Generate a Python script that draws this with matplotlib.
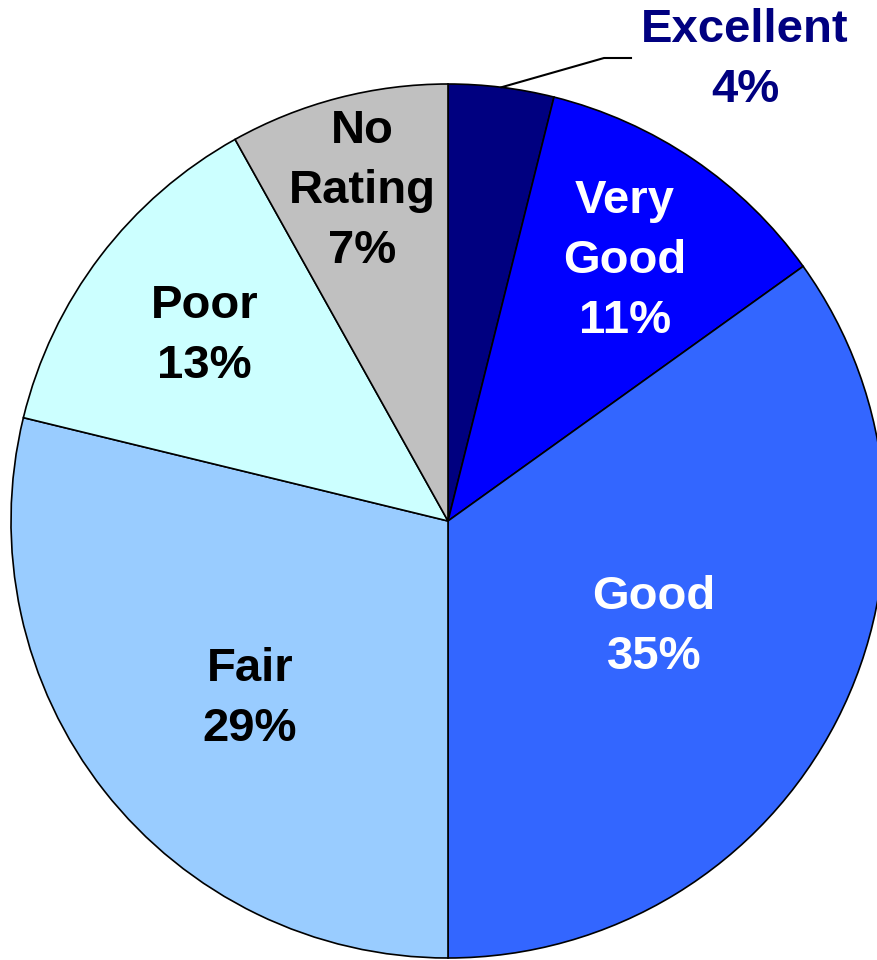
import matplotlib.pyplot as plt
import numpy as np

# shares (clockwise from 12 o'clock)
categorias = ['Excellent', 'Very\nGood', 'Good', 'Fair', 'Poor', 'No\nRating']
valores = [3.9, 11.2, 34.9, 28.8, 13.1, 8.1]
etiquetas_pct = ['4%', '11%', '35%', '29%', '13%', '7%']

colores = ['#000080', '#0000FF', '#3366FF', '#99CCFF', '#CCFFFF', '#C0C0C0']
color_texto = ['#000080', 'white', 'white', 'black', 'black', 'black']
dist_texto = [None, 0.72, 0.53, 0.61, 0.70, 0.78]
giro_texto = [0, 0, 0, 3.8, 0, 0]   # grados, ajuste fino de la posicion

plt.rcParams['font.family'] = ['Liberation Sans', 'DejaVu Sans']

fig = plt.figure(figsize=(8.77, 9.6), dpi=100)
ax = fig.add_axes([0, 0, 1, 1])

cx, cy, r = 448, 439, 437
wedges, _ = ax.pie(valores, colors=colores, startangle=90, counterclock=False,
                   center=(cx, cy), radius=r,
                   wedgeprops=dict(edgecolor='black', linewidth=1.2))

for i, w in enumerate(wedges):
    texto = categorias[i] + '\n' + etiquetas_pct[i]
    if dist_texto[i] is None:
        continue
    ang = np.deg2rad((w.theta1 + w.theta2) / 2 + giro_texto[i])
    x = cx + dist_texto[i] * r * np.cos(ang)
    y = cy + dist_texto[i] * r * np.sin(ang)
    ax.text(x, y, texto, ha='center', va='center', fontsize=34,
            fontweight='bold', color=color_texto[i], linespacing=1.47)

# etiqueta exterior con linea guia
w = wedges[0]
ang = np.deg2rad((w.theta1 + w.theta2) / 2)
px = cx + r * np.cos(ang)
py = cy + r * np.sin(ang)
ax.plot([px, 604, 631], [py, 960 - 58, 960 - 58], color='black', linewidth=1.5)
ax.text(745, 960 - 60, categorias[0] + '\n' + etiquetas_pct[0], ha='center',
        va='center', fontsize=34, fontweight='bold', color=color_texto[0],
        linespacing=1.47)

ax.set_xlim(0, 877)
ax.set_ylim(0, 960)
ax.set_aspect('equal')
ax.axis('off')

fig.savefig('out.png', dpi=100)
